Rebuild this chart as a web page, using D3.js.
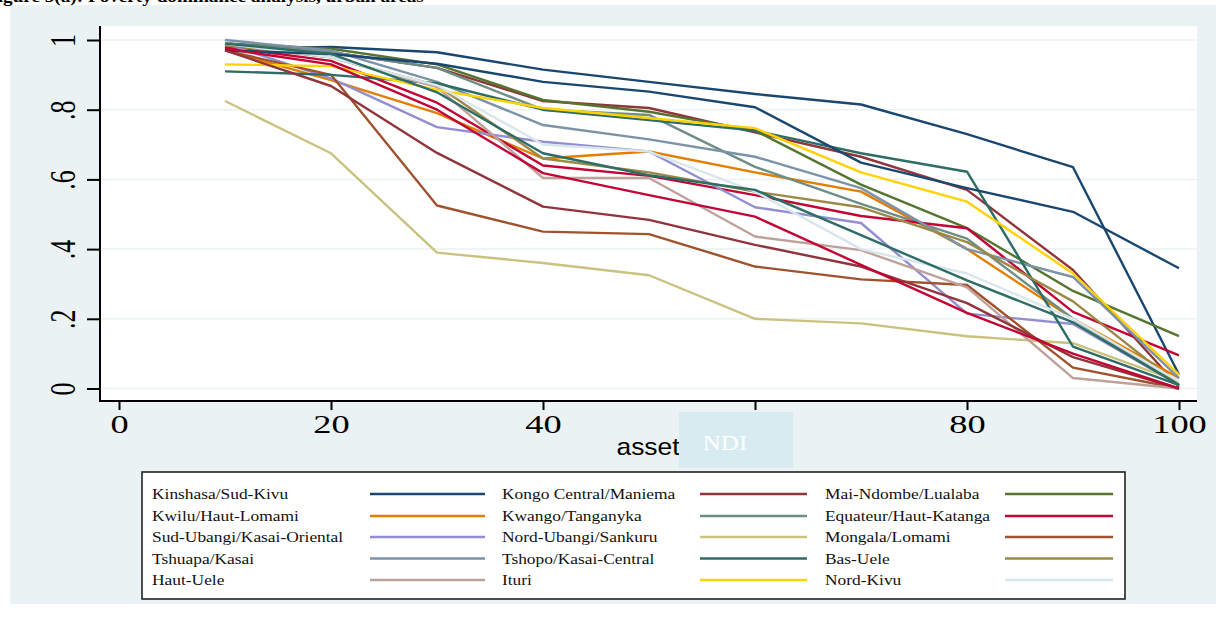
<!DOCTYPE html>
<html>
<head>
<meta charset="utf-8">
<script src="https://cdn.jsdelivr.net/npm/d3@7"></script>
<style>
	body { margin: 0; background: #fff; }
	svg { display: block; }
</style>
</head>
<body>
<svg id="svg_chart" width="1226" height="623"></svg>
<script>
// x positions of the points (asset percentile)
var assetPoints = [10, 20, 30, 40, 50, 60, 70, 80, 90, 100];
var xTicks = [0, 20, 40, 60, 80, 100];
var yTicks = [0, 0.2, 0.4, 0.6, 0.8, 1];
var yTickLabels = ["0", ".2", ".4", ".6", ".8", "1"];

// legend entries, in legend order
var seriesNames = ["Kinshasa/Sud-Kivu", "Kongo Central/Maniema", "Mai-Ndombe/Lualaba",
	"Kwilu/Haut-Lomami", "Kwango/Tanganyka", "Equateur/Haut-Katanga",
	"Sud-Ubangi/Kasai-Oriental", "Nord-Ubangi/Sankuru", "Mongala/Lomami",
	"Tshuapa/Kasai", "Tshopo/Kasai-Central", "Bas-Uele",
	"Haut-Uele", "Ituri", "Nord-Kivu"];
var seriesColors = ["#1a476f", "#90353b", "#55752f", "#e37e00", "#6e8e84", "#c10534",
	"#938dd2", "#cac27e", "#a0522d", "#7b92a8", "#2d6d66", "#9c8847",
	"#bfa19c", "#ffd200", "#d9e6eb"];

var kinshasa = [0.975, 0.98, 0.965, 0.915, 0.88, 0.845, 0.815, 0.73, 0.635, 0.04];
var kongoCentral = [0.99, 0.965, 0.92, 0.825, 0.805, 0.735, 0.665, 0.57, 0.34, 0.005];
var maiNdombe = [0.99, 0.975, 0.93, 0.828, 0.794, 0.74, 0.585, 0.46, 0.28, 0.15];
var kwilu = [0.97, 0.885, 0.79, 0.66, 0.68, 0.62, 0.565, 0.4, 0.2, 0.03];
var kwango = [0.99, 0.965, 0.92, 0.8, 0.785, 0.636, 0.53, 0.43, 0.2, 0.01];
var equateur = [0.98, 0.94, 0.82, 0.64, 0.61, 0.555, 0.495, 0.46, 0.22, 0.095];
var sudUbangi = [0.99, 0.89, 0.75, 0.708, 0.68, 0.52, 0.475, 0.215, 0.185, 0.01];
var nordUbangi = [0.825, 0.675, 0.39, 0.36, 0.325, 0.2, 0.187, 0.15, 0.13, 0.02];
var mongala = [0.97, 0.9, 0.525, 0.45, 0.443, 0.35, 0.313, 0.297, 0.06, 0.0];
var tshuapa = [1.0, 0.97, 0.88, 0.756, 0.715, 0.665, 0.575, 0.4, 0.32, 0.03];
var tshopo = [0.91, 0.9, 0.876, 0.8, 0.77, 0.74, 0.675, 0.622, 0.12, 0.01];
var basUele = [0.985, 0.95, 0.87, 0.66, 0.62, 0.565, 0.52, 0.42, 0.25, 0.01];
var hautUele = [0.99, 0.95, 0.865, 0.604, 0.604, 0.436, 0.397, 0.29, 0.03, 0.0];
var ituri = [0.93, 0.925, 0.857, 0.805, 0.776, 0.747, 0.62, 0.536, 0.33, 0.04];
var nordKivu = [0.99, 0.95, 0.87, 0.7, 0.68, 0.565, 0.4, 0.33, 0.2, 0.02];

// lines drawn in the plot that have no legend entry
var extraColors = ["#1a476f", "#90353b", "#c10534", "#2d6d66"];
var extraNavy = [0.97, 0.96, 0.932, 0.88, 0.852, 0.807, 0.648, 0.575, 0.507, 0.345];
var extraMaroon = [0.97, 0.868, 0.676, 0.522, 0.484, 0.412, 0.35, 0.245, 0.09, 0.0];
var extraCranberry = [0.975, 0.93, 0.8, 0.618, 0.555, 0.493, 0.355, 0.217, 0.1, 0.0];
var extraTeal = [0.99, 0.96, 0.85, 0.675, 0.612, 0.57, 0.44, 0.31, 0.19, 0.01];

var seriesValues = [kinshasa, kongoCentral, maiNdombe, kwilu, kwango, equateur,
	sudUbangi, nordUbangi, mongala, tshuapa, tshopo, basUele, hautUele, ituri, nordKivu];
var extraValues = [extraNavy, extraMaroon, extraCranberry, extraTeal];

var SX = 1.25; // the picture is stretched sideways, text too
var serif = "'Liberation Serif', 'DejaVu Serif', serif";

function renderChart() {
	var svg = d3.select("#svg_chart");
	var plot = { left: 100, right: 1197, top: 26, bottom: 401 };

	// outer panel
	svg.append("rect").attr("x", 10).attr("y", 5).attr("width", 1206).attr("height", 599)
		.attr("fill", "#eaf2f3");
	svg.append("text").attr("transform", "translate(-14,2) scale(1.2,1)")
		.style("font-family", serif).style("font-size", "16px").style("font-weight", "bold")
		.text("Figure 5(a): Poverty dominance analysis, urban areas");

	svg.append("rect").attr("x", plot.left).attr("y", plot.top)
		.attr("width", plot.right - plot.left).attr("height", plot.bottom - plot.top)
		.attr("fill", "#fff");

	var x = d3.scaleLinear().domain([0, 100]).range([119, 1179]);
	var y = d3.scaleLinear().domain([0, 1]).range([388.5, 40]);

	// grid
	svg.append("g").selectAll("line").data(yTicks).enter().append("line")
		.attr("x1", plot.left + 2).attr("x2", plot.right)
		.attr("y1", function(d) { return y(d); })
		.attr("y2", function(d) { return y(d); })
		.attr("stroke", "#eaf2f3").attr("stroke-width", 1.5);

	// lines
	var line = d3.line()
		.x(function(d, i) { return x(assetPoints[i]); })
		.y(function(d) { return y(d); });
	var g_line = svg.append("g").attr("id", "lines");
	var all = [];
	for (var i = 0; i < seriesValues.length; ++i) {
		all.push({ values: seriesValues[i], color: seriesColors[i] });
	}
	for (var j = 0; j < extraValues.length; ++j) {
		all.push({ values: extraValues[j], color: extraColors[j] });
	}
	g_line.selectAll("path").data(all).enter().append("path")
		.attr("d", function(d) { return line(d.values); })
		.attr("fill", "none")
		.attr("stroke", function(d) { return d.color; })
		.attr("stroke-width", 2.4)
		.attr("stroke-linejoin", "round");

	// x axis
	var g_x = svg.append("g")
		.attr("transform", "translate(0," + plot.bottom + ")")
		.call(d3.axisBottom(x).tickValues(xTicks).tickSize(9).tickPadding(5).tickSizeOuter(0));
	g_x.select(".domain").remove();
	g_x.append("line").attr("x1", plot.left - 1).attr("x2", plot.right)
		.attr("stroke", "#000").attr("stroke-width", 2);
	g_x.selectAll(".tick line").attr("stroke", "#000").attr("stroke-width", 2);
	g_x.selectAll(".tick text")
		.attr("fill", "#000")
		.attr("transform", "scale(1.4,1)")
		.style("font-family", serif).style("font-size", "26px");

	// y axis
	var g_y = svg.append("g")
		.attr("transform", "translate(" + plot.left + ",0)")
		.call(d3.axisLeft(y).tickValues(yTicks).tickSize(13).tickSizeOuter(0)
			.tickFormat(function(d, i) { return yTickLabels[i]; }));
	g_y.select(".domain").remove();
	g_y.append("line").attr("y1", plot.top).attr("y2", plot.bottom + 1)
		.attr("stroke", "#000").attr("stroke-width", 2);
	g_y.selectAll(".tick line").attr("stroke", "#000").attr("stroke-width", 2);
	g_y.selectAll(".tick text")
		.attr("x", null).attr("dy", null)
		.attr("fill", "#000")
		.attr("text-anchor", "middle")
		.attr("transform", "translate(-25,0) scale(1.35,1) rotate(-90)")
		.style("font-family", serif).style("font-size", "26px");

	// axis title
	svg.append("text")
		.attr("transform", "translate(648,455) scale(1.1,1)")
		.attr("text-anchor", "middle")
		.style("font-family", "'Liberation Sans', Arial, sans-serif").style("font-size", "24px")
		.text("asset");

	// NDI mark
	svg.append("rect").attr("x", 679).attr("y", 412).attr("width", 114).attr("height", 56)
		.attr("fill", "#d8ebf1");
	svg.append("text")
		.attr("transform", "translate(725,450) scale(" + SX + ",1)")
		.attr("text-anchor", "middle").attr("fill", "#fff")
		.style("font-family", serif).style("font-size", "20px")
		.text("NDI");

	renderLegend(svg);
}

function renderLegend(svg) {
	var box = { x: 142, y: 472, w: 983, h: 127 };
	var colText = [152, 502, 825];
	var colLine = [[370, 485], [700, 807], [1005, 1113]];
	var rowY = [494, 516, 537, 558.5, 580];

	var g = svg.append("g").attr("id", "legend");
	g.append("rect").attr("x", box.x).attr("y", box.y).attr("width", box.w).attr("height", box.h)
		.attr("fill", "#fff").attr("stroke", "#222").attr("stroke-width", 1.6);

	var items = g.selectAll("g.item").data(seriesNames).enter().append("g").attr("class", "item");
	items.append("text")
		.attr("transform", function(d, i) {
			return "translate(" + colText[i % 3] + "," + (rowY[Math.floor(i / 3)] + 5) + ") scale(1.2,1)";
		})
		.style("font-family", serif).style("font-size", "14.5px")
		.attr("fill", "#111")
		.text(function(d) { return d; });
	items.append("line")
		.attr("x1", function(d, i) { return colLine[i % 3][0]; })
		.attr("x2", function(d, i) { return colLine[i % 3][1]; })
		.attr("y1", function(d, i) { return rowY[Math.floor(i / 3)]; })
		.attr("y2", function(d, i) { return rowY[Math.floor(i / 3)]; })
		.attr("stroke", function(d, i) { return seriesColors[i]; })
		.attr("stroke-width", 2.5);
}

renderChart();
</script>
</body>
</html>
